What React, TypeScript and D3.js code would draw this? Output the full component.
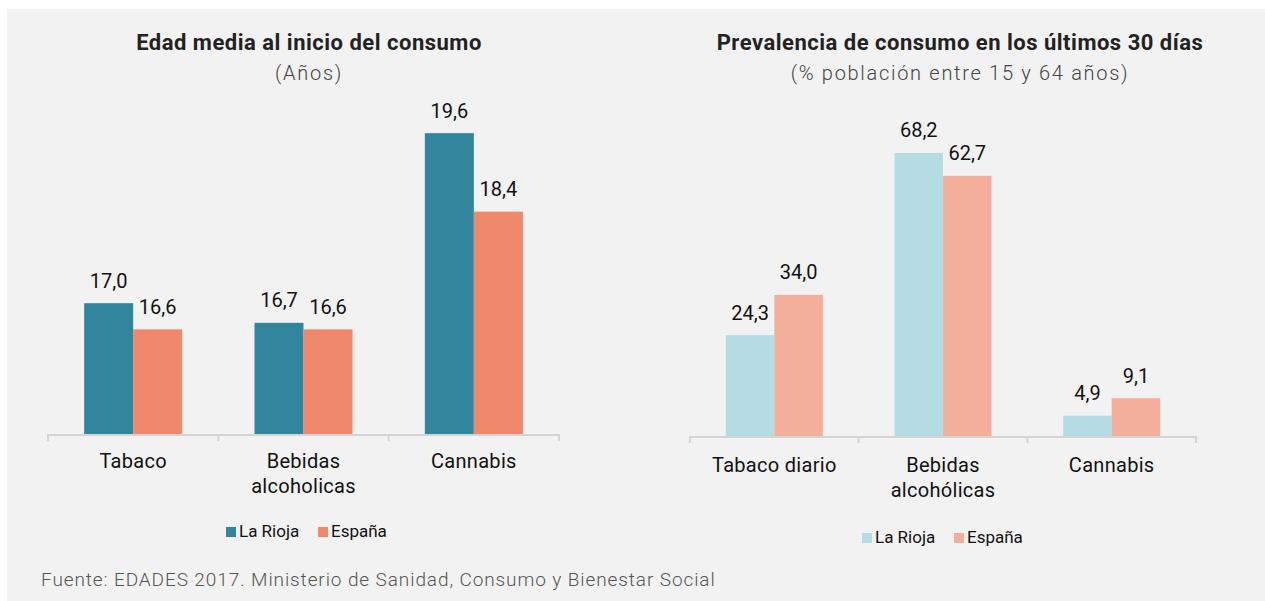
import { scaleBand, scaleLinear } from 'd3'

const width = 1265
const height = 601
const font = 'Roboto, "Noto Sans", sans-serif'

const seriesNames = ['La Rioja', 'España']

const edadCategories = ['Tabaco', 'Bebidas\nalcoholicas', 'Cannabis']
const edadRioja = [17.0, 16.7, 19.6]
const edadEspana = [16.6, 16.6, 18.4]
const edadColors = ['#31869d', '#f0886c']

const prevCategories = ['Tabaco diario', 'Bebidas\nalcohólicas', 'Cannabis']
const prevRioja = [24.3, 68.2, 4.9]
const prevEspana = [34.0, 62.7, 9.1]
const prevColors = ['#b5dbe3', '#f4af9c']

const fmt = (v: number) => v.toFixed(1).replace('.', ',')

type PanelProps = {
  title: string
  subtitle: string
  titleX: number
  categories: string[]
  values: number[][]
  colors: string[]
  domain: [number, number]
  xRange: [number, number]
  yRange: [number, number]
  groupWidth: number
  labelDy: number
  legendX: number
  legendY: number
}

function BarPanel(p: PanelProps) {
  const x0 = scaleBand().domain(p.categories).range(p.xRange)
  const x1 = scaleBand().domain(seriesNames).range([0, p.groupWidth])
  const y = scaleLinear().domain(p.domain).range(p.yRange)
  const base = p.yRange[0]
  const step = x0.step()

  return (
    <g>
      <text x={p.titleX} y={50} textAnchor="middle" fontSize={22} fontWeight="bold" letterSpacing={0.5} fill="#222">{p.title}</text>
      <text x={p.titleX} y={80} textAnchor="middle" fontSize={20} fontWeight={300} letterSpacing={1.7} fill="#444">{p.subtitle}</text>

      {p.categories.map((c, i) => {
        const gx = x0(c)! + (x0.bandwidth() - p.groupWidth) / 2
        return (
          <g key={c}>
            {seriesNames.map((s, j) => {
              const v = p.values[j][i]
              const bx = gx + x1(s)!
              return (
                <g key={s}>
                  <rect x={bx} y={y(v)} width={x1.bandwidth()} height={base - y(v)} fill={p.colors[j]} />
                  <text x={bx + x1.bandwidth() / 2} y={y(v) - 15.5} textAnchor="middle" fontSize={20} fill="#111">{fmt(v)}</text>
                </g>
              )
            })}
            {c.split('\n').map((line, k) => (
              <text key={k} x={x0(c)! + step / 2} y={base + p.labelDy + k * 25} textAnchor="middle" fontSize={20} letterSpacing={0.3} fill="#111">{line}</text>
            ))}
          </g>
        )
      })}

      <line x1={p.xRange[0]} x2={p.xRange[1]} y1={base + 1} y2={base + 1} stroke="#d4d4d4" strokeWidth={2} />
      {[...p.categories.map(c => x0(c)!), p.xRange[1]].map((t, i) => (
        <line key={i} x1={t} x2={t} y1={base} y2={base + 7} stroke="#d4d4d4" strokeWidth={2} />
      ))}

      {seriesNames.map((s, j) => {
        const lx = p.legendX + j * 92
        return (
          <g key={s}>
            <rect x={lx} y={p.legendY - 10} width={10} height={10} fill={p.colors[j]} />
            <text x={lx + 13} y={p.legendY} fontSize={17} fill="#111">{s}</text>
          </g>
        )
      })}
    </g>
  )
}

function App() {
  return (
    <svg width={width} height={height} style={{ position: 'absolute', left: 0, top: 0, fontFamily: font }}>
      <rect width={width} height={height} fill="#fff" />
      <rect x={7} y={9} width={width - 7} height={height - 9} fill="#f2f2f2" />

      <BarPanel
        title="Edad media al inicio del consumo"
        subtitle="(Años)"
        titleX={309}
        categories={edadCategories}
        values={[edadRioja, edadEspana]}
        colors={edadColors}
        domain={[15, 20]}
        xRange={[48, 559]}
        yRange={[434, 107]}
        groupWidth={98}
        labelDy={34}
        legendX={226}
        legendY={537}
      />
      <BarPanel
        title="Prevalencia de consumo en los últimos 30 días"
        subtitle="(% población entre 15 y 64 años)"
        titleX={960}
        categories={prevCategories}
        values={[prevRioja, prevEspana]}
        colors={prevColors}
        domain={[0, 80]}
        xRange={[690, 1196]}
        yRange={[436, 104]}
        groupWidth={97}
        labelDy={36}
        legendX={862}
        legendY={543}
      />

      <text x={41} y={586} fontSize={19} fontWeight={300} letterSpacing={0.9} fill="#555">
        Fuente: EDADES 2017. Ministerio de Sanidad, Consumo y Bienestar Social
      </text>
    </svg>
  )
}

export default App
